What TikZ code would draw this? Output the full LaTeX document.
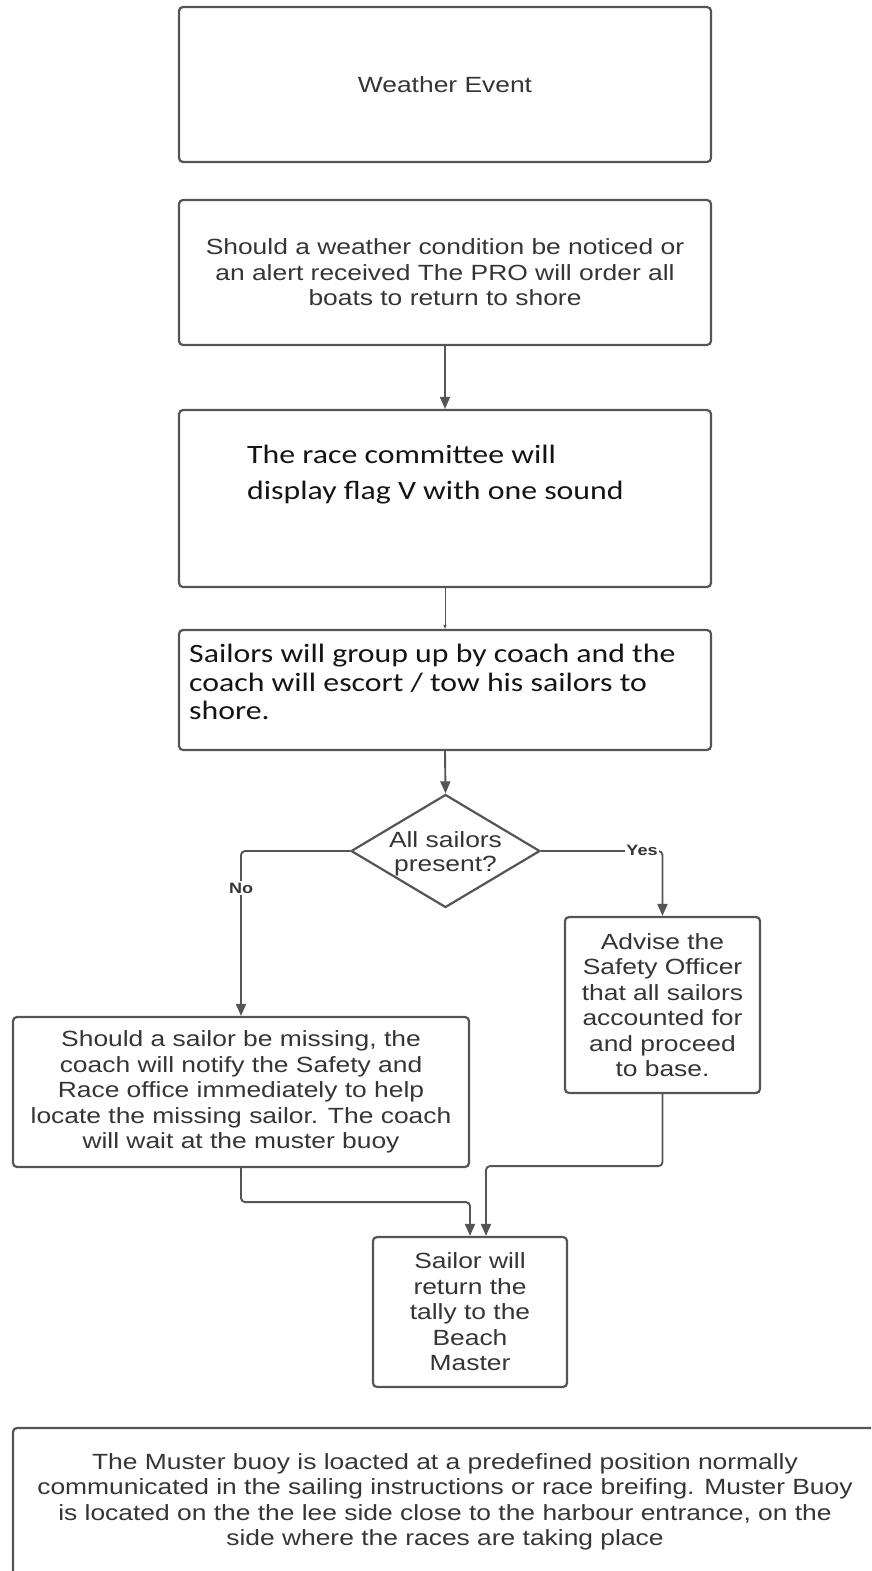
\documentclass[tikz,border=0pt]{standalone}
\usepackage{fontspec}
\setmainfont{Liberation Sans}[FakeStretch=1.2]
\newfontfamily\calib{Carlito}[FakeStretch=1.2]
\usetikzlibrary{arrows.meta,shapes.geometric,calc}
\definecolor{bord}{HTML}{555555}
\definecolor{txtc}{HTML}{353535}
\definecolor{caltxt}{HTML}{141414}
\begin{document}
\begin{tikzpicture}[x=1pt,y=-1pt,
  box/.style={draw=bord, line width=2.2pt, rounded corners=4pt, inner sep=0pt, align=center,
    text=txtc, font=\fontsize{22}{25.5}\selectfont},
  caltext/.style={align=left, inner sep=0pt, text=caltxt, font=\calib\fontsize{26.5}{28.5}\selectfont},
  arr/.style={draw=bord, line width=1.9pt, rounded corners=4pt, -{Triangle[length=12pt,width=10pt]}},
  thinarr/.style={draw=bord, line width=0.9pt, -{Triangle[length=4pt,width=3pt]}},
  lab/.style={fill=white, inner sep=1.5pt, text=txtc, font=\bfseries\fontsize{15}{15}\selectfont}]
\useasboundingbox (0,0) rectangle (871,1571);
\begin{scope}
\clip (0,0) rectangle (871,1571);
\node[box, minimum width=532pt, minimum height=155pt] (b1) at (445,84.5) {Weather Event};
\node[box, minimum width=532pt, minimum height=145pt] (b2) at (445,272.5)
  {Should a weather condition be noticed or\\an alert received The PRO will order all\\boats to return to shore};
\node[box, minimum width=532pt, minimum height=177pt] (b3) at (445,498.5) {};
\node[caltext, anchor=west, font=\calib\fontsize{26.5}{36}\selectfont] (t3) at (247,475)
  {The race committee will\\display flag V with one sound};
\node[box, minimum width=532pt, minimum height=120pt] (b4) at (445,690) {};
\node[caltext, anchor=west] (t4) at (189,682)
  {Sailors will group up by coach and the\\coach will escort / tow his sailors to\\shore.};
\node[draw=bord, line width=2.2pt, diamond, minimum width=189pt, minimum height=113pt, inner sep=0pt] (dec) at (445.5,851) {};
\node[align=center, inner sep=0pt, text=txtc, font=\fontsize{22}{24.5}\selectfont] (tdec) at ($(dec)+(0,3)$) {All sailors\\present?};
\node[box, minimum width=456pt, minimum height=150pt] (b5) at (241,1092)
  {Should a sailor be missing, the\\coach will notify the Safety and\\Race office immediately to help\\locate the missing sailor. The coach\\will wait at the muster buoy};
\node[box, minimum width=195pt, minimum height=176pt] (b6) at (662.5,1005)
  {Advise the\\Safety Officer\\that all sailors\\accounted for\\and proceed\\to base.};
\node[box, minimum width=194pt, minimum height=150pt] (b7) at (470,1312)
  {Sailor will\\return the\\tally to the\\Beach\\Master};
\node[box, minimum width=864pt, minimum height=148pt] (b8) at (445,1502)
  {The Muster buoy is loacted at a predefined position normally\\communicated in the sailing instructions or race breifing. Muster Buoy\\is located on the the lee side close to the harbour entrance, on the\\side where the races are taking place};
\end{scope}
% connectors
\draw[arr] (b2.south) -- (b3.north);
\draw[thinarr] (b3.south) -- (b4.north);
\draw[arr] (b4.south) -- (dec.north);
\draw[arr] (dec.west) -| (b5.north);
\draw[arr] (dec.east) -| (b6.north);
\node[lab] (no) at (241,888) {No};
\node[lab] (yes) at (642,850) {Yes};
\draw[arr] (b5.south) -- ++(0,34) -| (b7.north);
\draw[arr] (b6.south) -- ++(0,72) -| ([xshift=16pt]b7.north);
\end{tikzpicture}
\end{document}
